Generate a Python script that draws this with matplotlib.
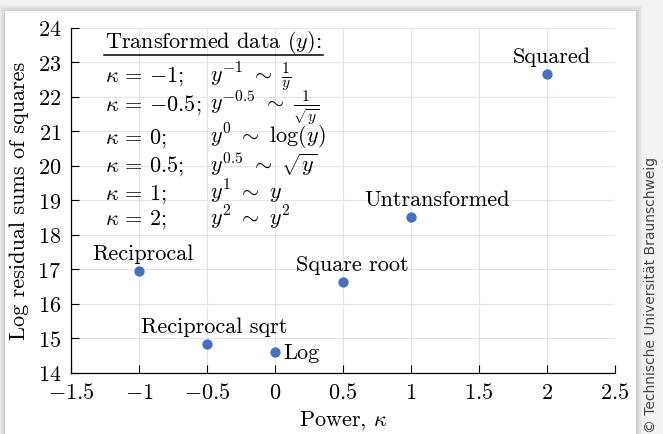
import matplotlib
matplotlib.use("Agg")
import matplotlib.pyplot as plt
from matplotlib.patches import Rectangle
from matplotlib.ticker import FuncFormatter

# ---------------- data ----------------
powers = [-1.0, -0.5, 0.0, 0.5, 1.0, 2.0]
log_rss = [16.93, 14.83, 14.60, 16.61, 18.50, 22.66]
names = ["Reciprocal", "Reciprocal sqrt", "Log", "Square root", "Untransformed", "Squared"]

legend_kappa = [r"$\kappa\,=\,{-1};$", r"$\kappa\,=\,{-0.5};$", r"$\kappa\,=\,0;$",
                r"$\kappa\,=\,0.5;$", r"$\kappa\,=\,1;$", r"$\kappa\,=\,2;$"]
legend_form = [r"$y^{\mathrm{-1}}\ \sim\ \frac{1}{y}$",
               r"$y^{\mathrm{-0.5}}\ \sim\ \frac{1}{\sqrt{y}}$",
               r"$y^{0}\ \sim\ \log(y)$",
               r"$y^{0.5}\ \sim\ \sqrt{y}$",
               r"$y^{1}\ \sim\ y$",
               r"$y^{2}\ \sim\ y^{2}$"]

# label placement (offset in pixels from the point, alignment)
label_style = {
    "Reciprocal": ((4, 12), "center", "baseline"),
    "Reciprocal sqrt": ((7, 12), "center", "baseline"),
    "Log": ((8, -6), "left", "baseline"),
    "Square root": ((9, 12), "center", "baseline"),
    "Untransformed": ((26, 12), "center", "baseline"),
    "Squared": ((5, 12), "center", "baseline"),
}

# ---------------- style ----------------
plt.rcParams["font.family"] = "serif"
plt.rcParams["font.serif"] = ["cmr10"]
plt.rcParams["mathtext.fontset"] = "cm"
plt.rcParams["axes.formatter.use_mathtext"] = True
plt.rcParams["axes.unicode_minus"] = True

W, H = 663, 435
fig = plt.figure(figsize=(W / 100, H / 100), dpi=100)
fig.patch.set_facecolor("#f3f3f3")

# card with soft shadow
card_l, card_r, card_t = 5, 636, 12
for i, a in enumerate([0.03, 0.03, 0.04, 0.05]):
    grow = (4 - i) * 1.5
    fig.patches.append(Rectangle(
        ((card_l - grow) / W, 0), (card_r - card_l + 2 * grow) / W,
        (H - card_t + grow) / H, transform=fig.transFigure,
        facecolor="black", alpha=a, edgecolor="none", zorder=-20))
fig.patches.append(Rectangle(
    (card_l / W, 0), (card_r - card_l) / W, (H - card_t) / H,
    transform=fig.transFigure, facecolor="white", edgecolor="none", zorder=-10))

ax = fig.add_axes([71 / W, (H - 373.5) / H, 544 / W, 345 / H])
ax.set_facecolor("none")

ax.scatter(powers, log_rss, s=55, color="#4271c0", zorder=3, linewidths=0)

for x, y, name in zip(powers, log_rss, names):
    off, ha, va = label_style[name]
    ax.annotate(name, (x, y), xytext=off, textcoords="offset pixels",
                ha=ha, va=va, fontsize=16, zorder=4)

ax.set_xlim(-1.5, 2.5)
ax.set_ylim(14, 24)
ax.set_xticks([-1.5, -1, -0.5, 0, 0.5, 1, 1.5, 2, 2.5])
ax.set_yticks(range(14, 25))
fmt = FuncFormatter(lambda v, _: f"${v:g}$")
ax.xaxis.set_major_formatter(fmt)
ax.yaxis.set_major_formatter(fmt)
ax.grid(True, color="#e4e4e4", linewidth=0.8)
ax.set_axisbelow(True)
ax.spines["top"].set_visible(False)
ax.spines["right"].set_visible(False)
ax.spines["left"].set_linewidth(0.9)
ax.spines["bottom"].set_linewidth(0.9)
ax.tick_params(direction="in", length=6, width=0.8, labelsize=16, pad=7)

ax.set_xlabel(r"Power, $\kappa$", fontsize=16, labelpad=4)
ax.set_ylabel("Log residual sums of squares", fontsize=16, labelpad=6)

# transform table drawn inside the axes
ax.text(0.0625, 0.9426, r"Transformed data ($y$):", transform=ax.transAxes,
        fontsize=16, ha="left", va="baseline")
ax.plot([0.0607, 0.4627], [0.9212, 0.9212], transform=ax.transAxes,
        color="black", linewidth=1.1)
row_y = [0.8458, 0.7617, 0.6672, 0.5849, 0.5029, 0.4304]
for yy, k, f in zip(row_y, legend_kappa, legend_form):
    ax.text(0.0625, yy, k, transform=ax.transAxes, fontsize=16,
            ha="left", va="baseline")
    ax.text(0.2555, yy, f, transform=ax.transAxes, fontsize=16,
            ha="left", va="baseline")

fig.text(651.5 / W, 2 / H, "© Technische Universität Braunschweig",
         rotation=90, ha="center", va="bottom", fontsize=10,
         family="DejaVu Sans", color="#444444")

fig.savefig("out.png", dpi=100, facecolor=fig.get_facecolor())
